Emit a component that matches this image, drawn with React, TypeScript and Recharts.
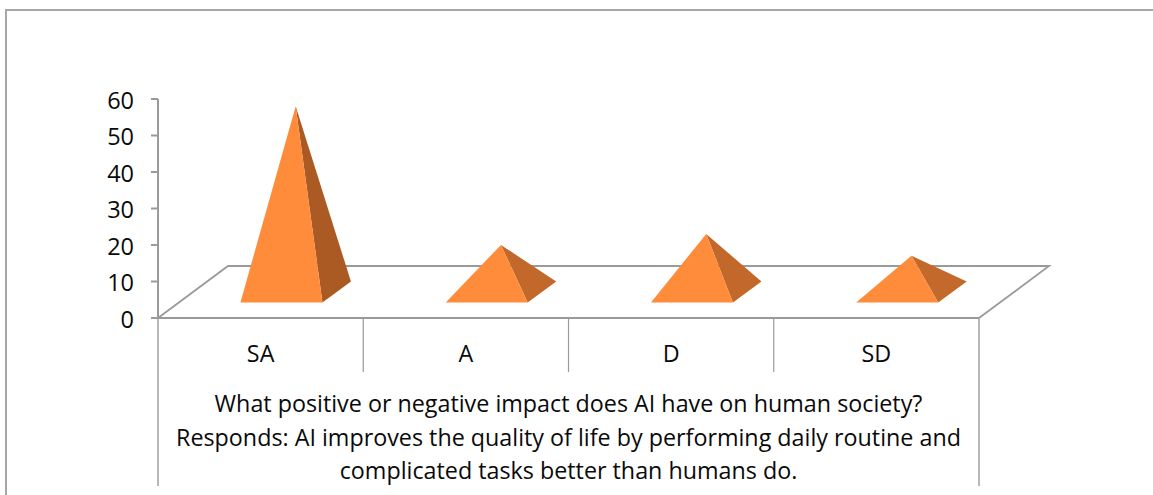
import React from "react";
import { ComposedChart, Bar, XAxis, YAxis, usePlotArea } from "recharts";

const categories = ["SA", "A", "D", "SD"];
const values = [50.9, 12.9, 15.9, 9.9];
const sideColors = ["#AA5A22", "#C1682A", "#C1682A", "#C3692B"];
const yTicks = [0, 10, 20, 30, 40, 50, 60];
const captionLines = [
  "What positive or negative impact does AI have on human society?",
  "Responds: AI improves the quality of life by performing daily routine and",
  "complicated tasks better than humans do.",
];

const data = categories.map((name, i) => ({ name, value: values[i], side: sideColors[i] }));

const W = 1153;
const H = 495;
const FONT = "'Open Sans', sans-serif";
const AXIS = "#9a9a9a";
const FRONT = "#FF8C3A";
// oblique projection of the floor
const DEPTH_X = 70;
const DEPTH_Y = 52;
const BASE_FRONT = 15.5; // distance of the base front edge above the axis line
const BASE_DEPTH_X = 28.5;
const BASE_DEPTH_Y = 21;

const Pyramid = (props: any) => {
  const { x, y, width, height, payload } = props;
  const bottom = y + height;
  const shiftX = (BASE_FRONT / DEPTH_Y) * DEPTH_X;
  const frontY = bottom - BASE_FRONT;
  const left = x + shiftX;
  const right = left + width;
  const backRightX = right + BASE_DEPTH_X;
  const backRightY = frontY - BASE_DEPTH_Y;
  const apexX = left + width / 2 + BASE_DEPTH_X / 2;
  const apexY = y - BASE_FRONT - BASE_DEPTH_Y / 2;
  return (
    <g>
      <polygon points={`${apexX},${apexY} ${right},${frontY} ${backRightX},${backRightY}`} fill={payload.side} />
      <polygon points={`${apexX},${apexY} ${left},${frontY} ${right},${frontY}`} fill={FRONT} />
    </g>
  );
};

const Backdrop = () => {
  const area = usePlotArea();
  if (!area) return null;
  const { x, y, width, height } = area;
  const b = y + height;
  const r = x + width;
  return (
    <g>
      <polyline
        points={`${x},${b} ${x + DEPTH_X},${b - DEPTH_Y} ${r + DEPTH_X},${b - DEPTH_Y} ${r},${b}`}
        fill="none"
        stroke={AXIS}
        strokeWidth={1.8}
      />
    </g>
  );
};

const Frame = () => {
  const area = usePlotArea();
  if (!area) return null;
  const { x, y, width, height } = area;
  const b = y + height;
  const step = width / categories.length;
  const cx = x + width / 2;
  return (
    <g>
      <line x1={x} y1={b} x2={x} y2={486} stroke={AXIS} strokeWidth={1.4} />
      <line x1={x + width} y1={b} x2={x + width} y2={486} stroke={AXIS} strokeWidth={1.4} />
      {categories.slice(1).map((c, i) => (
        <line key={c} x1={x + step * (i + 1)} y1={b} x2={x + step * (i + 1)} y2={372} stroke={AXIS} strokeWidth={1.2} />
      ))}
      <text textAnchor="middle" fontFamily={FONT} fontSize={23.3} fill="#0a0a0a">
        {captionLines.map((line, i) => (
          <tspan key={i} x={cx} y={412 + i * 33.5}>
            {line}
          </tspan>
        ))}
      </text>
    </g>
  );
};

export default function App() {
  return (
    <div style={{ position: "absolute", left: 0, top: 0, width: W, height: H, background: "#fff", overflow: "hidden" }}>
      <div style={{ position: "absolute", left: 5, top: 9, width: 1160, height: 500, border: "2px solid #a6a6a6", boxSizing: "border-box" }} />
      <div style={{ position: "absolute", left: 0, top: 0 }}>
        <ComposedChart
          width={W}
          height={H}
          data={data}
          margin={{ top: 99, right: 174, bottom: 0, left: 0 }}
          barCategoryGap="30%"
        >
          <Backdrop />
          <XAxis
            dataKey="name"
            interval={0}
            tickLine={false}
            height={177}
            axisLine={{ stroke: AXIS, strokeWidth: 2 }}
            tick={{ fontFamily: FONT, fontSize: 23.3, fill: "#0a0a0a", dy: 19.5 }}
          />
          <YAxis
            domain={[0, 60]}
            ticks={yTicks}
            width={158}
            interval={0}
            axisLine={{ stroke: AXIS, strokeWidth: 2 }}
            tickLine={{ stroke: AXIS, strokeWidth: 2 }}
            tickSize={7}
            tickMargin={17}
            tick={{ fontFamily: FONT, fontSize: 23.5, fill: "#0a0a0a", dy: 1.5 }}
          />
          <Bar dataKey="value" shape={Pyramid} isAnimationActive={false} />
          <Frame />
        </ComposedChart>
      </div>
    </div>
  );
}
